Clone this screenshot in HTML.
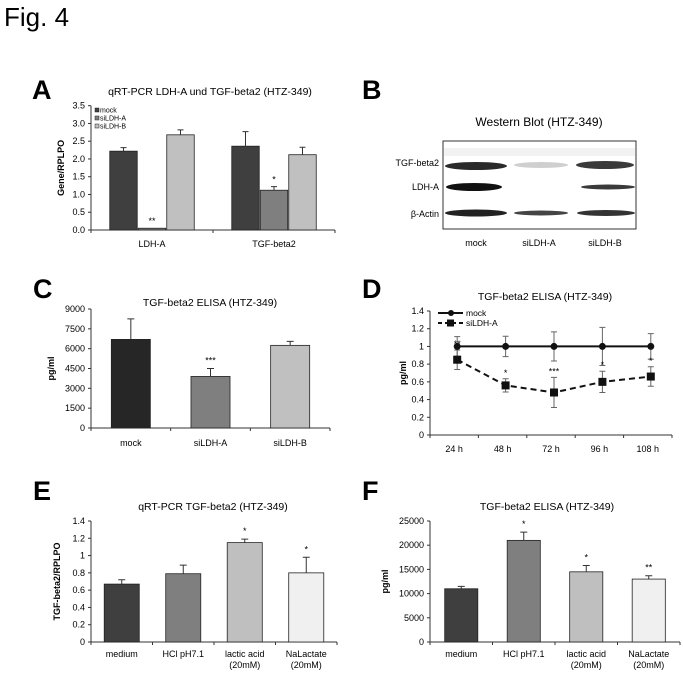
<!DOCTYPE html>
<html><head><meta charset="utf-8"><style>
html,body{margin:0;padding:0;background:#fff;}
svg{display:block;font-family:"Liberation Sans",Arial,sans-serif;}
</style></head><body>
<svg id="fig" width="683" height="676" viewBox="0 0 683 676" xmlns="http://www.w3.org/2000/svg">
<text x="4" y="26" font-size="26">Fig. 4</text>
<text x="32" y="99" font-size="27" font-weight="bold">A</text>
<text x="362" y="99" font-size="27" font-weight="bold">B</text>
<text x="33" y="298" font-size="27" font-weight="bold">C</text>
<text x="362" y="298" font-size="27" font-weight="bold">D</text>
<text x="33" y="500" font-size="27" font-weight="bold">E</text>
<text x="362" y="500" font-size="27" font-weight="bold">F</text>

<g>
<text x="539" y="126" font-size="12" text-anchor="middle">Western Blot (HTZ-349)</text>
<rect x="443" y="141" width="193" height="88" fill="#fff" stroke="#333" stroke-width="1"/>
<rect x="444" y="148" width="191" height="8" fill="#f2f2f2"/>
<text x="439" y="166" font-size="9" text-anchor="end">TGF-beta2</text>
<text x="439" y="190" font-size="9" text-anchor="end">LDH-A</text>
<text x="439" y="217" font-size="9" text-anchor="end">β-Actin</text>
<ellipse cx="476" cy="166" rx="31" ry="4" fill="#2a2a2a"/>
<ellipse cx="541" cy="165" rx="27" ry="3" fill="#cfcfcf"/>
<ellipse cx="605" cy="165" rx="29" ry="4" fill="#3a3a3a"/>
<ellipse cx="474" cy="187" rx="28" ry="4" fill="#111"/>
<ellipse cx="608" cy="187" rx="27" ry="2.5" fill="#3a3a3a"/>
<ellipse cx="476" cy="213" rx="31" ry="3.5" fill="#222"/>
<ellipse cx="541" cy="213" rx="27" ry="2.5" fill="#444"/>
<ellipse cx="606" cy="213" rx="29" ry="3" fill="#333"/>
<text x="476" y="246" font-size="9" text-anchor="middle">mock</text>
<text x="539" y="246" font-size="9" text-anchor="middle">siLDH-A</text>
<text x="605" y="246" font-size="9" text-anchor="middle">siLDH-B</text>
</g>
</svg>
<script>
const aCategories = ["LDH-A", "TGF-beta2"];
const aSeries = ["mock", "siLDH-A", "siLDH-B"];
const aMock = [2.22, 2.36];
const aSiA = [0.05, 1.12];
const aSiB = [2.68, 2.12];
const aMockErr = [0.10, 0.41];
const aSiAErr = [0.0, 0.10];
const aSiBErr = [0.14, 0.21];
const aStars = [["", "**", ""], ["", "*", ""]];
const aTicks = ["0.0","0.5","1.0","1.5","2.0","2.5","3.0","3.5"];
const cCategories = ["mock", "siLDH-A", "siLDH-B"];
const cValues = [6700, 3900, 6250];
const cErr = [1550, 600, 300];
const cStars = ["", "***", ""];
const cTicks = [0,1500,3000,4500,6000,7500,9000];
const dCategories = ["24 h", "48 h", "72 h", "96 h", "108 h"];
const dMock = [1, 1, 1, 1, 1];
const dMockErr = [0.11, 0.115, 0.165, 0.215, 0.145];
const dSiA = [0.85, 0.56, 0.48, 0.60, 0.66];
const dSiAErr = [0.11, 0.075, 0.17, 0.12, 0.11];
const dStars = ["**", "*", "***", "*", "*"];
const dTicks = ["0","0.2","0.4","0.6","0.8","1","1.2","1.4"];
const eCategories = [["medium"], ["HCl pH7.1"], ["lactic acid","(20mM)"], ["NaLactate","(20mM)"]];
const eValues = [0.67, 0.79, 1.15, 0.80];
const eErr = [0.05, 0.10, 0.04, 0.18];
const eStars = ["", "", "*", "*"];
const eTicks = ["0","0.2","0.4","0.6","0.8","1","1.2","1.4"];
const fCategories = [["medium"], ["HCl pH7.1"], ["lactic acid","(20mM)"], ["NaLactate","(20mM)"]];
const fValues = [11000, 21000, 14500, 13000];
const fErr = [500, 1700, 1300, 700];
const fStars = ["", "*", "*", "**"];
const fTicks = [0,5000,10000,15000,20000,25000];

const NS = "http://www.w3.org/2000/svg";
const svg = document.getElementById("fig");
function mk(tag, attrs, parent) {
  const e = document.createElementNS(NS, tag);
  for (const k in attrs) e.setAttribute(k, attrs[k]);
  (parent || svg).appendChild(e);
  return e;
}
function txt(x, y, s, size, anchor, parent, extra) {
  const t = mk("text", Object.assign({x:x, y:y, "font-size":size, "text-anchor":anchor||"middle"}, extra||{}), parent);
  t.textContent = s;
  return t;
}
function axes(g, x0, x1, yTop, yBot, ticks, max, nCat, ylabel, title, titleX, titleY, ylabX) {
  const ys = v => yBot - (v / max) * (yBot - yTop);
  const l1 = mk("line", {x1:x0, y1:yTop, x2:x0, y2:yBot, stroke:"#333"}, g);
  
  
  const l2 = mk("line", {x1:x0, y1:yBot, x2:x1, y2:yBot, stroke:"#333"}, g);
  
  
  ticks.forEach((t, i) => {
    const v = max * i / (ticks.length - 1);
    const y = ys(v);
    mk("line", {x1:x0-3, y1:y, x2:x0, y2:y, stroke:"#333"}, g);
    const tl = txt(x0-6, y+3, String(t), 9, "end", g);
    
    
  });
  for (let i = 0; i <= nCat; i++) {
    const x = x0 + (x1 - x0) * i / nCat;
    mk("line", {x1:x, y1:yBot, x2:x, y2:yBot+3, stroke:"#333"}, g);
  }
  const yl = txt(0, 0, ylabel, 9, "middle", g, {"font-weight":"bold", transform:"translate(" + ylabX + "," + ((yTop+yBot)/2) + ") rotate(-90)"});
  
  
  const tt = txt(titleX, titleY, title, 10.5, "middle", g);
  
  
  return ys;
}
function errBar(g, x, yv, ye, w) {
  const e = mk("path", {d:"M"+x+","+yv+"V"+ye+"M"+(x-w)+","+ye+"H"+(x+w), stroke:"#333", fill:"none", "stroke-width":1}, g);
  
  
}
function bar(g, x, w, ys, v, color, name) {
  const r = mk("rect", {x:x, y:ys(v), width:w, height:ys(0)-ys(v), fill:color, stroke:"#222", "stroke-width":0.8}, g);
  
  
}

(function(){
  const g = mk("g", {});
  
  
  const x0 = 91, x1 = 335, yTop = 105.7, yBot = 230;
  const ys = axes(g, x0, x1, yTop, yBot, aTicks, 3.5, 2, "Gene/RPLPO", "qRT-PCR LDH-A und TGF-beta2 (HTZ-349)", 210, 95, 64);
  const colors = ["#3f3f3f", "#7f7f7f", "#c0c0c0"];
  const vals = [aMock, aSiA, aSiB], errs = [aMockErr, aSiAErr, aSiBErr];
  const catW = (x1 - x0) / aCategories.length, bw = 27.5;
  aCategories.forEach((c, ci) => {
    const cx = x0 + catW * (ci + 0.5);
    vals.forEach((s, si) => {
      const bx = cx - 1.5*bw - 1 + si*(bw+1);
      bar(g, bx, bw, ys, s[ci], colors[si], "bar-" + aSeries[si] + "-" + c);
      if (errs[si][ci] > 0) errBar(g, bx + bw/2, ys(s[ci]), ys(s[ci] + errs[si][ci]), 3);
      const st = aStars[ci][si];
      if (st) { const t = txt(bx + bw/2, ys(s[ci] + errs[si][ci]) - 4, st, 9, "middle", g);   }
    });
    const cl = txt(cx, 247, c, 9, "middle", g);
    
    
  });
  aSeries.forEach((s, i) => {
    const y = 108 + i * 8;
    const sw = mk("rect", {x:95, y:y, width:4, height:4, fill:colors[i], stroke:"#222", "stroke-width":0.5}, g);
    
    
    const lt = txt(100, y+4.5, s, 7, "start", g);
    
    
  });
})();

function barPanel(name, cats, vals, errs, stars, ticks, max, colors, x0, x1, yTop, yBot, ylabel, title, tx, ty, ylabX, bwFrac, labY) {
  const g = mk("g", {});
  
  
  const ys = axes(g, x0, x1, yTop, yBot, ticks, max, cats.length, ylabel, title, tx, ty, ylabX);
  const catW = (x1 - x0) / cats.length, bw = catW * bwFrac;
  cats.forEach((c, i) => {
    const cx = x0 + catW * (i + 0.5);
    const lines = Array.isArray(c) ? c : [c];
    bar(g, cx - bw/2, bw, ys, vals[i], colors[i], "bar-" + lines[0].replace(/\W+/g, "-").toLowerCase());
    errBar(g, cx, ys(vals[i]), ys(vals[i] + errs[i]), 3.5);
    if (stars[i]) { const t = txt(cx, ys(vals[i] + errs[i]) - 5, stars[i], 9, "middle", g);   }
    lines.forEach((l, li) => {
      const cl = txt(cx, labY + li * 11, l, 9, "middle", g);
      
      
    });
  });
}
barPanel("panel-c-chart", cCategories, cValues, cErr, cStars, cTicks, 9000, ["#262626", "#7f7f7f", "#c0c0c0"],
  91, 330, 309, 428, "pg/ml", "TGF-beta2 ELISA (HTZ-349)", 210, 306, 54, 0.49, 446);
barPanel("panel-e-chart", eCategories, eValues, eErr, eStars, eTicks, 1.4, ["#3f3f3f", "#7f7f7f", "#bfbfbf", "#f0f0f0"],
  91, 337, 521, 642, "TGF-beta2/RPLPO", "qRT-PCR TGF-beta2 (HTZ-349)", 213, 510, 60, 0.57, 657);
barPanel("panel-f-chart", fCategories, fValues, fErr, fStars, fTicks, 25000, ["#3f3f3f", "#7f7f7f", "#bfbfbf", "#f0f0f0"],
  430, 680, 521, 642, "pg/ml", "TGF-beta2 ELISA (HTZ-349)", 547, 510, 388, 0.53, 657);

(function(){
  const g = mk("g", {});
  
  
  const x0 = 430, x1 = 672, yTop = 311, yBot = 435;
  const ys = axes(g, x0, x1, yTop, yBot, dTicks, 1.4, dCategories.length, "pg/ml", "TGF-beta2 ELISA (HTZ-349)", 545, 300, 406);
  const catW = (x1 - x0) / dCategories.length;
  const xs = i => x0 + catW * (i + 0.5) + 3;
  const mp = mk("polyline", {points: dMock.map((v, i) => xs(i) + "," + ys(v)).join(" "), fill:"none", stroke:"#111", "stroke-width":2}, g);
  
  
  const sp = mk("polyline", {points: dSiA.map((v, i) => xs(i) + "," + ys(v)).join(" "), fill:"none", stroke:"#111", "stroke-width":2, "stroke-dasharray":"6,4"}, g);
  
  
  dCategories.forEach((c, i) => {
    const x = xs(i);
    mk("path", {d:"M"+x+","+ys(dMock[i]-dMockErr[i])+"V"+ys(dMock[i]+dMockErr[i])+"M"+(x-3)+","+ys(dMock[i]-dMockErr[i])+"h6M"+(x-3)+","+ys(dMock[i]+dMockErr[i])+"h6", stroke:"#666", fill:"none"}, g);
    mk("path", {d:"M"+x+","+ys(dSiA[i]-dSiAErr[i])+"V"+ys(dSiA[i]+dSiAErr[i])+"M"+(x-3)+","+ys(dSiA[i]-dSiAErr[i])+"h6M"+(x-3)+","+ys(dSiA[i]+dSiAErr[i])+"h6", stroke:"#666", fill:"none"}, g);
    const pm = mk("circle", {cx:x, cy:ys(dMock[i]), r:3.5, fill:"#111"}, g);
    
    
    const ps = mk("rect", {x:x-4, y:ys(dSiA[i])-4, width:8, height:8, fill:"#111"}, g);
    
    
    const st = txt(x, ys(dSiA[i] + dSiAErr[i]) - 3, dStars[i], 9, "middle", g);
    
    
    const cl = txt(x0 + catW * (i + 0.5), 452, c, 9, "middle", g);
    
    
  });
  const lg = mk("g", {}, g);
  
  
  mk("line", {x1:438, y1:313, x2:463, y2:313, stroke:"#111", "stroke-width":2}, lg);
  mk("circle", {cx:451, cy:313, r:3, fill:"#111"}, lg);
  const t1 = txt(466, 316, "mock", 8.5, "start", lg);
  
  
  mk("line", {x1:438, y1:323, x2:463, y2:323, stroke:"#111", "stroke-width":2, "stroke-dasharray":"4,3"}, lg);
  mk("rect", {x:447, y:319.5, width:7, height:7, fill:"#111"}, lg);
  const t2 = txt(466, 326, "siLDH-A", 8.5, "start", lg);
  
  
})();
</script>
</body></html>
